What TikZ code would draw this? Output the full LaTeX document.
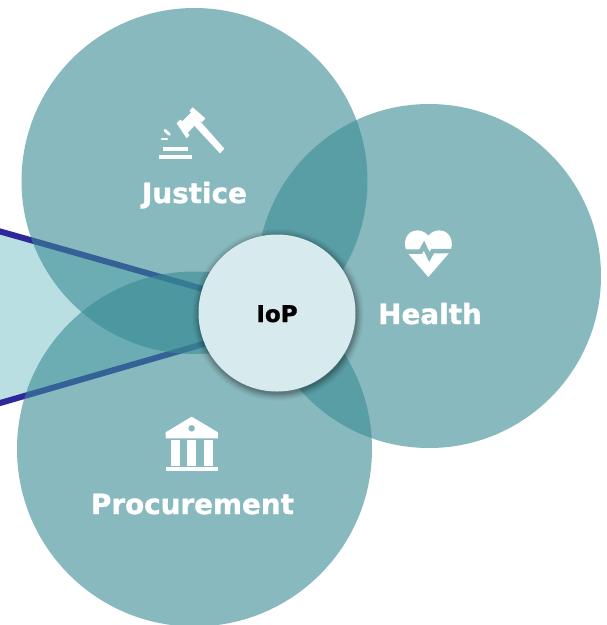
\documentclass[tikz,border=0pt]{standalone}
\usepackage{fontspec}
\setmainfont{DejaVu Sans}[BoldFeatures={FakeBold=1.2}]
\pgfdeclarelayer{under}
\pgfsetlayers{under,main}
\definecolor{petal}{RGB}{57,138,148}
\definecolor{petalbg}{RGB}{138,184,188}
\definecolor{wedge}{RGB}{185,223,227}
\definecolor{rayblue}{RGB}{46,40,154}
\definecolor{hub}{RGB}{215,235,239}
\tikzset{
  petalc/.style={circle,fill=petal,fill opacity=0.6,draw=none,inner sep=0pt},
  hubc/.style={circle,fill=hub,draw=none,inner sep=0pt,minimum size=157pt},
  label/.style={text=white,font=\bfseries\fontsize{27.8pt}{32pt}\selectfont,inner sep=0pt,anchor=base},
  hublabel/.style={text=black,font=\bfseries\fontsize{23pt}{26pt}\selectfont,inner sep=0pt,anchor=base},
  ray/.style={draw=rayblue,line width=6pt},
  icon/.style={fill=white,draw=none}
}
\begin{document}
\begin{tikzpicture}[x=1pt,y=-1pt]
\useasboundingbox (0,0) rectangle (607,625);
\node[hubc] (iop) at (277,313) {};
\node[hublabel] (ioplabel) at (277,322) {IoP};
\coordinate (raytop) at (-5,230);
\coordinate (raybot) at (-5,404.5);
\begin{pgfonlayer}{under}
  \fill[wedge] (raytop) -- (iop.162) -- (iop.203) -- (raybot) -- cycle;
  \draw[ray] (raytop) -- (iop.162);
  \draw[ray] (raybot) -- (iop.203);
  \node[petalc,minimum size=346pt] (justice) at (194.5,181) {};
  \node[petalc,minimum size=344pt] (health) at (429,276) {};
  \node[petalc,minimum size=355pt] (procurement) at (194.5,449) {};
  \foreach \r/\o in {86/0.02,85/0.03,84/0.03,83/0.04,82/0.05,81/0.06,80/0.07,79/0.08}
    \fill[black,opacity=\o] (278,315) circle[radius=\r pt];
\end{pgfonlayer}
\node[label] (justicelabel) at (194.5,203) {Justice};
\node[label] (healthlabel) at (430,324) {Health};
\node[label] (procurementlabel) at (192.5,514) {Procurement};
% gavel
\begin{scope}[shift={(130,90)},x=0.3333pt,y=-0.3333pt]
  \fill[icon] (188,52) -- (226,85) -- (216,97) -- (209,91) -- (173,129) -- (179,135) -- (170,145) -- (140,100) -- (151,89) -- (157,94) -- (184,67) -- (178,63) -- cycle;
  \fill[icon] (192,106) -- (208,91) -- (283,176) -- (270,190) -- cycle;
  \fill[icon] (100,171) rectangle (174,184);
  \fill[icon] (88,195) rectangle (185,208);
  \draw[white,line width=2.8pt,line cap=round] (105,121) -- (118,133);
  \draw[white,line width=2.8pt,line cap=round] (96,147) -- (111,147);
\end{scope}
% heart
\begin{scope}[shift={(370,215)},x=0.3333pt,y=-0.3333pt]
  \fill[icon] (175,186) -- (118,120) .. controls (98,100) and (100,58) .. (130,48)
    .. controls (148,42) and (165,50) .. (175,62)
    .. controls (185,50) and (202,42) .. (220,48)
    .. controls (250,58) and (252,100) .. (234,118) -- cycle;
  \draw[petalbg,line width=4.5pt,line join=miter] (100,110) -- (152,110) -- (162,92) -- (178,126) -- (188,108) -- (250,108);
\end{scope}
% bank
\begin{scope}[shift={(140,400)},x=0.3333pt,y=-0.3333pt]
  \fill[icon,even odd rule] (77,115) -- (77,97) -- (155,50) -- (234,97) -- (234,115) -- cycle (155,85) circle[radius=3.4pt];
  \fill[icon] (94,120) rectangle (121,197);
  \fill[icon] (142,120) rectangle (168,197);
  \fill[icon] (192,120) rectangle (218,197);
  \fill[icon] (78,202) rectangle (234,213);
\end{scope}
\end{tikzpicture}
\end{document}
